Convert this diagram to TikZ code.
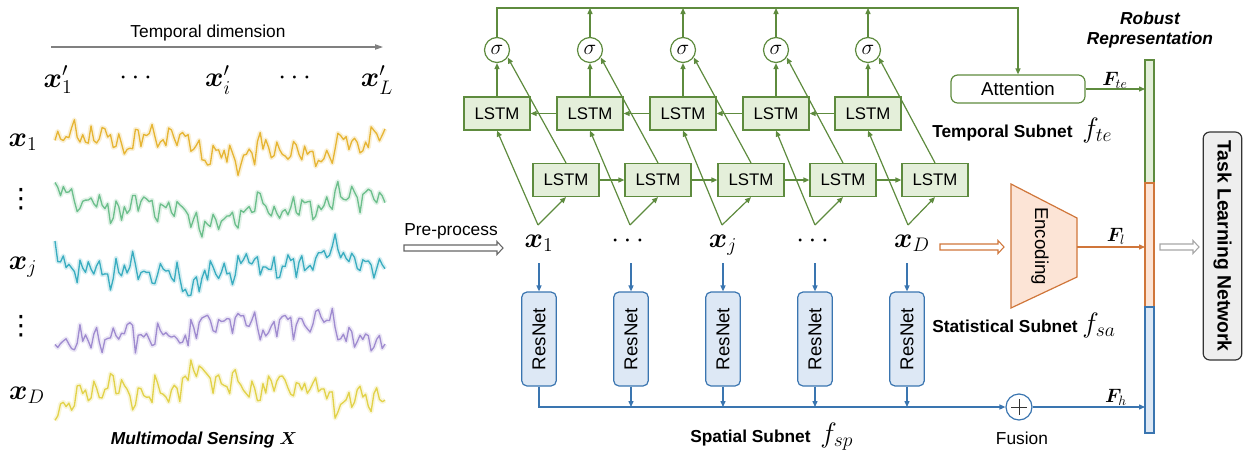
\RequirePackage{fix-cm}
\documentclass[tikz,border=0pt]{standalone}
\usepackage{amsmath,bm}
\usepackage{fontspec}
\setmainfont{Liberation Sans}
\newfontfamily\dejavu{DejaVu Sans}
\usetikzlibrary{arrows.meta,calc}
\definecolor{gline}{HTML}{5E8B3E}
\definecolor{gfill}{HTML}{E4EFDA}
\definecolor{bline}{HTML}{3A75B0}
\definecolor{bfill}{HTML}{DDE8F5}
\definecolor{oline}{HTML}{D0763A}
\definecolor{ofill}{HTML}{FCE4D6}
\definecolor{sgA}{HTML}{E6B534}
\definecolor{sgB}{HTML}{6DBF8C}
\definecolor{sgC}{HTML}{3AADC0}
\definecolor{sgD}{HTML}{A08CD0}
\definecolor{sgE}{HTML}{E2D24A}
\newcommand{\mysignal}[4]{%
  \pgfmathsetseed{#3}%
  \draw[#2, line width=3.6pt, opacity=0.2, line join=round]
    plot[domain=0:330, samples=120] (55+\x, {#1 - sg(\x,#4)});
  \pgfmathsetseed{#3}%
  \draw[#2, line width=1pt, line join=round]
    plot[domain=0:330, samples=120] (55+\x, {#1 - sg(\x,#4)});
}
\newcommand{\hollowarrow}[3]{%
  \draw[#3, fill=white, line width=0.8pt, line join=miter]
    ($(#1)+(0,-3)$) -- ($(#2)+(-6,-3)$) -- ($(#2)+(-6,-6.5)$) -- (#2)
    -- ($(#2)+(-6,6.5)$) -- ($(#2)+(-6,3)$) -- ($(#1)+(0,3)$) -- cycle;
}
\begin{document}
\begin{tikzpicture}[x=0.75pt,y=-0.75pt,
  >={Triangle[length=4.5pt,width=3.8pt]},
  declare function={sg(\x,\p)=9*sin(1.2*\x+\p)+6*sin(3.7*\x+\p)+5*sin(9*\x+\p)+6*sin(23*\x+\p)+5*sin(41*\x+\p)+7*rand;},
  lstm/.style={draw=gline,fill=gfill,line width=0.9pt,minimum width=49.5pt,minimum height=24.75pt,inner sep=0pt,font=\fontsize{12.6}{14}\selectfont},
  sigm/.style={circle,draw=gline,fill=white,line width=0.9pt,minimum size=18.75pt,inner sep=0pt,font=\fontsize{16}{18}\selectfont},
  resnet/.style={draw=bline,fill=bfill,line width=0.9pt,rounded corners=4pt,rotate=90,minimum width=70.5pt,minimum height=26pt,inner sep=0pt,font=\fontsize{14}{16}\selectfont},
  gar/.style={draw=gline,line width=0.9pt,->},
  blar/.style={draw=bline,line width=0.9pt,->},
  olar/.style={draw=oline,line width=0.9pt,->},
  xl/.style={font=\fontsize{21}{23}\selectfont,inner sep=0pt},
  vd/.style={font=\dejavu\fontsize{20}{22}\selectfont,inner sep=0pt},
  fl/.style={font=\fontsize{21}{23}\selectfont,inner sep=0pt},
  Fl/.style={font=\fontsize{14.5}{16}\selectfont,inner sep=0pt},
  lbl/.style={font=\fontsize{13}{15}\selectfont,inner sep=0pt},
  blbl/.style={font=\bfseries\fontsize{13}{15}\selectfont,inner sep=0pt},
]
\useasboundingbox (0,0) rectangle (1254,461);

% ---------------- left panel ----------------
\node[lbl] (tdim) at (208,33) {Temporal dimension};
\coordinate (ta) at (51,47);
\coordinate (tb) at (383,47);
\draw[gray, line width=0.8pt, -{Triangle[length=6pt,width=4pt]}] (ta) -- (tb);
\node[xl] (xp1) at (58,80) {$\bm{x}'_1$};
\node[xl] (xpd1) at (138,78) {$\cdots$};
\node[xl] (xpi) at (218,80) {$\bm{x}'_i$};
\node[xl] (xpd2) at (297,78) {$\cdots$};
\node[xl] (xpL) at (377,80) {$\bm{x}'_L$};

\node[xl] (r1l) at (23,142) {$\bm{x}_1$};
\node[vd] (rv1) at (21,199) {⋮};
\node[xl] (rjl) at (23,267) {$\bm{x}_j$};
\node[vd] (rv2) at (21,326) {⋮};
\node[xl] (rDl) at (27,395) {$\bm{x}_D$};

\mysignal{146}{sgA}{11}{10}
\mysignal{208}{sgB}{23}{70}
\mysignal{268}{sgC}{37}{130}
\mysignal{330}{sgD}{51}{200}
\mysignal{390}{sgE}{64}{260}

\node[font=\bfseries\itshape\fontsize{13}{15}\selectfont,inner sep=0pt] (mms) at (204,440) {Multimodal Sensing $\bm{X}$};

% ---------------- pre-process ----------------
\node[lbl] (pre) at (451,231) {Pre-process};
\coordinate (pa) at (404,248);
\coordinate (pb) at (503,248);
\hollowarrow{pa}{pb}{gray!80!black}

% inputs
\node[xl] (in1) at (539,243) {$\bm{x}_1$};
\node[xl] (ind1) at (630,241) {$\cdots$};
\node[xl] (inj) at (723,245) {$\bm{x}_j$};
\node[xl] (ind2) at (815,241) {$\cdots$};
\node[xl] (inD) at (912,243) {$\bm{x}_D$};

% ---------------- temporal subnet ----------------
\foreach \i/\xt/\xb in {1/497/566,2/590/658,3/683/751,4/776/843,5/868/935}{
  \node[lstm] (t\i) at (\xt,113.5) {LSTM};
  \node[lstm] (b\i) at (\xb,180) {LSTM};
  \node[sigm] (s\i) at (\xt,50) {$\sigma$};
}
\foreach \i/\xa in {1/538,2/630,3/722,4/815,5/908}{
  \coordinate (ap\i) at (\xa,225);
}
\foreach \i in {1,...,5}{
  \draw[gar] (ap\i) -- (t\i.south);
  \draw[gar] (ap\i) -- (b\i.south);
  \draw[gar] (t\i.north) -- (s\i.south);
  \draw[gar] (b\i.north) -- (s\i.-35);
}
\foreach \i/\j in {1/2,2/3,3/4,4/5}{
  \draw[gar] (t\j.west) -- (t\i.east);
  \draw[gar] (b\i.east) -- (b\j.west);
}
\foreach \i/\xt in {2/590,3/683,4/776,5/868}{
  \coordinate (top\i) at (\xt,8);
  \draw[gar] (s\i.north) -- (top\i);
}
\node[draw=gline,fill=white,line width=0.9pt,rounded corners=5pt,minimum width=100.5pt,minimum height=21pt,inner sep=0pt,font=\fontsize{14}{16}\selectfont] (att) at (1018,89) {Attention};
\draw[gar] (s1.north) |- (1018,8) -- (att.north);

\node[blbl,anchor=base west] (tsub) at (932,137) {Temporal Subnet};
\node[fl,anchor=base west] (fte) at (1082,137) {$f_{te}$};

% ---------------- robust representation bar ----------------
\draw[draw=gline,fill=gfill,line width=0.9pt] (1145,60) rectangle (1154,183);
\draw[draw=oline,fill=ofill,line width=0.9pt] (1145,183) rectangle (1154,307);
\draw[draw=bline,fill=bfill,line width=0.9pt] (1145,307) rectangle (1154,433);
\coordinate (bte) at (1145,89);
\coordinate (bl) at (1145,247);
\coordinate (bh) at (1145,407);
\node[font=\bfseries\itshape\fontsize{13}{15}\selectfont,align=center,inner sep=0pt] (rob) at (1150,30) {Robust\\[-0.5pt]Representation};

\draw[gar] (att.east) -- (bte);
\node[Fl] (Fte) at (1115,80) {$\bm{F}_{te}$};

% ---------------- statistical subnet ----------------
\draw[draw=oline,fill=ofill,line width=0.9pt,line join=miter] (1011,184) -- (1077,218) -- (1077,277) -- (1011,308) -- cycle;
\node[rotate=-90,font=\fontsize{14}{16}\selectfont,inner sep=0pt] (enc) at (1040,246) {Encoding};
\coordinate (ea) at (940,247);
\coordinate (eb) at (1004,247);
\hollowarrow{ea}{eb}{oline}
\coordinate (eo) at (1077,247);
\draw[olar] (eo) -- (bl);
\node[Fl] (Fl) at (1116,236) {$\bm{F}_{l}$};
\node[blbl,anchor=base west] (ssub) at (932,332) {Statistical Subnet};
\node[fl,anchor=base west] (fsa) at (1082,332) {$f_{sa}$};

% ---------------- spatial subnet ----------------
\foreach \i/\xr in {1/539,2/631,3/723,4/815,5/907}{
  \node[resnet] (r\i) at (\xr,339) {ResNet};
  \coordinate (ri\i) at (\xr,263);
  \draw[blar] (ri\i) -- (r\i.east);
  \coordinate (ro\i) at (\xr,407);
}
\foreach \i in {2,...,5}{
  \draw[blar] (r\i.west) -- (ro\i);
}
\node[circle,draw=bline,fill=white,line width=0.9pt,minimum size=19.5pt,inner sep=0pt] (fus) at (1019,407) {};
\draw[black!80, line width=0.7pt] ($(fus.center)+(-8,0)$) -- ($(fus.center)+(8,0)$)
  ($(fus.center)+(0,-8)$) -- ($(fus.center)+(0,8)$);
\draw[blar] (r1.west) |- (fus.west);
\draw[blar] (fus.east) -- (bh);
\node[Fl] (Fh) at (1116,397) {$\bm{F}_{h}$};
\node[lbl] (fusl) at (1022,438) {Fusion};
\node[blbl,anchor=base west] (spsub) at (690,442) {Spatial Subnet};
\node[fl,anchor=base west] (fsp) at (820,442) {$f_{sp}$};

% ---------------- task learning network ----------------
\coordinate (ga) at (1160,247);
\coordinate (gb) at (1199,247);
\hollowarrow{ga}{gb}{gray!70}
\node[draw=gray!40!black,fill=gray!13,line width=0.9pt,rounded corners=5pt,rotate=-90,minimum width=171pt,minimum height=29pt,inner sep=0pt,font=\bfseries\fontsize{14.5}{16}\selectfont] (tln) at (1222.5,246) {Task Learning Network};
\end{tikzpicture}
\end{document}
